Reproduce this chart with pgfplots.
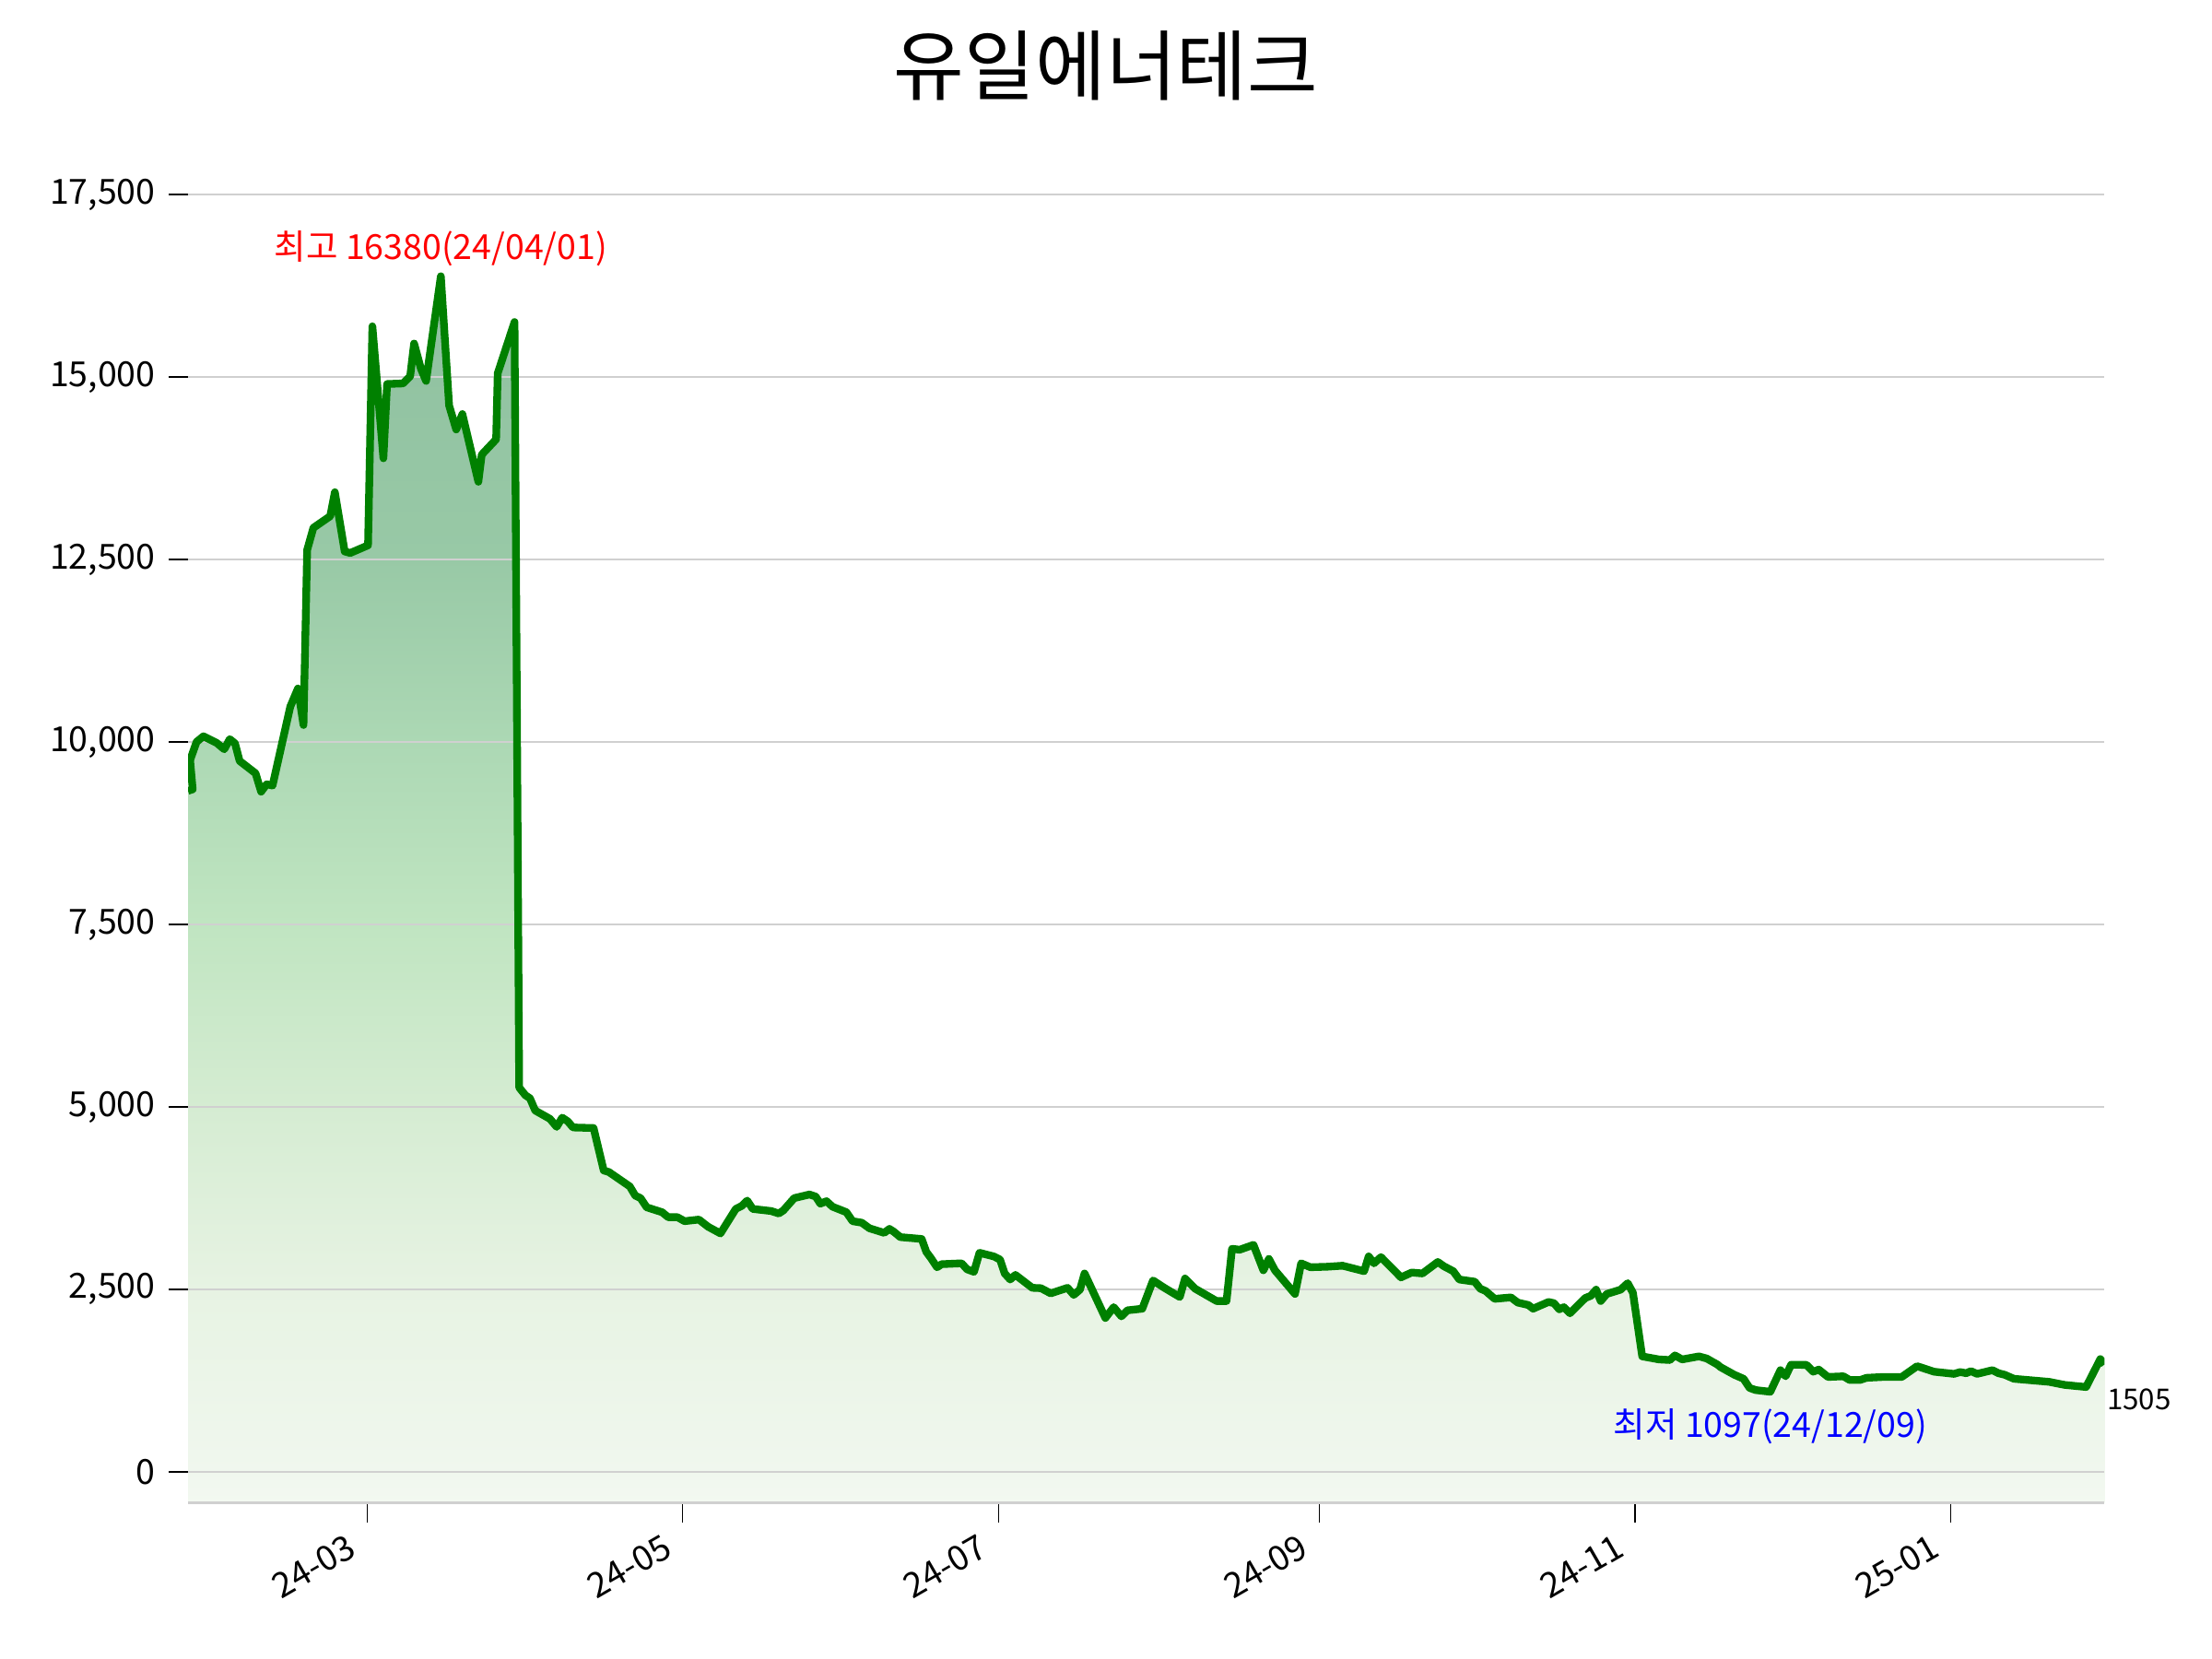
\documentclass[border=0pt]{standalone}
\usepackage{fontspec}
\setmainfont{Noto Sans CJK KR}
\usepackage{pgfplots}
\pgfplotsset{compat=1.18}
\usepackage{pgfplotstable}
\definecolor{lineGreen}{RGB}{0,128,0}
\definecolor{gridGray}{RGB}{208,208,208}
\definecolor{gc0}{RGB}{243,249,241}
\definecolor{gc1}{RGB}{240,247,238}
\definecolor{gc2}{RGB}{231,243,227}
\definecolor{gc3}{RGB}{213,236,210}
\definecolor{gc4}{RGB}{192,229,193}
\definecolor{gc5}{RGB}{172,216,180}
\definecolor{gc6}{RGB}{152,201,166}
\definecolor{gc7}{RGB}{143,192,160}
\pgfdeclareverticalshading{gfill}{100bp}{color(0bp)=(gc0); color(25bp)=(gc0); color(26.28bp)=(gc1); color(33.72bp)=(gc2); color(41.15bp)=(gc3); color(48.59bp)=(gc4); color(56.02bp)=(gc5); color(63.46bp)=(gc6); color(75bp)=(gc7); color(100bp)=(gc7)}

\pgfplotstableread{
x y
-34.6 9330
-33.7 9350
-34.2 9750
-32.95 10000
-31.63 10077
-29.08 9987
-27.60 9899
-26.54 10038
-25.52 9979
-24.63 9739
-21.55 9570
-20.48 9318
-19.41 9419
-18.27 9402
-14.84 10484
-13.36 10732
-12.29 10231
-11.58 12630
-10.38 12933
-7.12 13093
-6.23 13421
-4.33 12609
-3.26 12588
0.18 12693
1.02 15694
3.15 13885
3.86 14903
6.95 14911
8.32 15008
9.08 15458
10.40 15113
11.40 14945
14.25 16380
15.85 14608
17.22 14280
18.41 14491
21.50 13564
22.15 13935
24.93 14145
25.24 15050
28.49 15753
29.39 5265
30.58 5160
31.47 5117
32.48 4950
35.33 4836
36.63 4726
37.70 4852
38.77 4802
39.79 4718
43.76 4710
45.72 4129
46.73 4107
50.76 3910
51.82 3784
52.84 3750
54.03 3624
56.99 3557
58.18 3489
59.96 3489
61.34 3434
64.11 3456
65.89 3358
68.28 3266
71.24 3602
72.43 3645
73.45 3716
74.51 3602
78.08 3573
79.55 3539
80.44 3582
82.53 3750
85.48 3800
86.68 3771
87.57 3674
88.76 3708
89.94 3632
92.61 3557
93.80 3434
95.58 3413
97.06 3337
99.91 3274
100.93 3329
101.82 3287
103.01 3216
106.57 3194
107.16 3190
108.05 3014
108.94 2929
110.13 2803
111.02 2845
114.87 2857
115.94 2774
117.26 2740
118.33 3001
121.10 2951
122.30 2908
123.19 2718
124.26 2635
125.27 2698
128.53 2521
130.19 2516
132.09 2445
135.35 2521
136.54 2424
137.74 2496
138.63 2718
142.65 2108
144.26 2256
145.75 2130
146.93 2213
149.78 2235
151.86 2622
154.05 2521
157.03 2395
158.04 2648
160.00 2509
164.15 2340
166.06 2340
167.12 3056
168.60 3043
171.27 3110
173.18 2761
174.25 2917
175.42 2761
179.29 2437
180.48 2857
182.26 2803
185.52 2810
188.49 2824
192.64 2749
193.53 2951
194.55 2857
195.90 2942
199.77 2664
201.85 2731
203.92 2718
206.89 2875
208.08 2816
209.87 2749
211.04 2635
214.02 2605
215.09 2509
216.10 2479
217.88 2370
221.02 2390
222.33 2319
224.40 2285
225.29 2235
228.27 2327
229.33 2311
230.35 2226
231.24 2256
232.42 2172
235.39 2382
236.46 2412
237.47 2496
238.36 2340
239.54 2437
242.21 2496
243.58 2585
244.59 2453
246.38 1582
249.63 1540
251.72 1532
252.71 1595
254.09 1540
257.35 1582
258.84 1553
260.91 1470
261.51 1435
264.18 1330
265.96 1275
267.14 1149
268.33 1120
271.13 1097
273.09 1393
274.09 1309
275.15 1468
278.13 1465
279.43 1372
280.50 1401
282.28 1300
285.26 1309
286.45 1259
288.51 1259
289.71 1288
292.97 1300
296.53 1300
299.50 1448
302.76 1372
306.63 1342
307.82 1367
309.00 1351
309.89 1380
311.08 1342
314.05 1393
315.23 1351
316.42 1330
318.20 1275
325.02 1233
328.00 1191
332.15 1162
334.9 1545
335.7 1470
}\pricedata

\begin{document}
\begin{tikzpicture}
\begin{axis}[
  set layers,
  scale only axis, width=499pt, height=362.6pt,
  xmin=-34.6, xmax=335.7, ymin=-429, ymax=18649,
  axis x line*=bottom, axis y line*=left,
  x axis line style={draw=gridGray, line width=0.7pt},
  y axis line style={draw=none},
  tick align=outside, major tick length=5pt,
  tick style={line width=0.3pt, black},
  xtick={0,61,122,184,245,306},
  xticklabels={24-03,24-05,24-07,24-09,24-11,25-01},
  ytick={0,2500,5000,7500,10000,12500,15000,17500},
  ymajorgrids, grid style={gridGray, line width=0.65pt},
  scaled y ticks=false,
  /pgf/number format/.cd, 1000 sep={,}, fixed, assume math mode=true, /pgfplots/.cd,
  yticklabel style={font=\fontsize{9}{10}\selectfont, anchor=east, inner sep=0pt, xshift=-3.3pt},
  xticklabel style={font=\fontsize{9}{10}\selectfont, xshift=-5.5pt, yshift=-2.5pt, rotate=30, anchor=north east, inner sep=0pt},
  title={유일에너테크},
  title style={at={(0.479,1.0347)}, anchor=center, yshift=-7pt, font=\fontsize{20}{24}\selectfont, inner sep=0pt},
  clip mode=individual,
]
\addplot[draw=none, shading=gfill, on layer=axis background]
  table[x=x, y=y] {\pricedata} -- (axis cs:335.7,-429) -- (axis cs:-34.6,-429) -- cycle;
\addplot[color=lineGreen, line width=2pt, line join=round] table[x=x, y=y] {\pricedata};
\node[anchor=south, text=red, font=\fontsize{9}{10}\selectfont, inner sep=0pt, yshift=2.4pt] at (axis cs:14.25,16380) {최고 16380(24/04/01)};
\node[anchor=north, text=blue, font=\fontsize{9}{10}\selectfont, inner sep=0pt, yshift=-4.3pt] at (axis cs:271.13,1097) {최저 1097(24/12/09)};
\node[anchor=north west, font=\fontsize{7.5}{9}\selectfont, inner sep=0pt, yshift=-6.8pt, xshift=0.5pt] at (axis cs:335.7,1505) {1505};
\end{axis}
\pgfresetboundingbox
\path[use as bounding box] ([xshift=-48.96pt,yshift=-40.56pt]current axis.south west) rectangle ([xshift=28pt,yshift=28.8pt]current axis.north east);
\end{tikzpicture}
\end{document}
